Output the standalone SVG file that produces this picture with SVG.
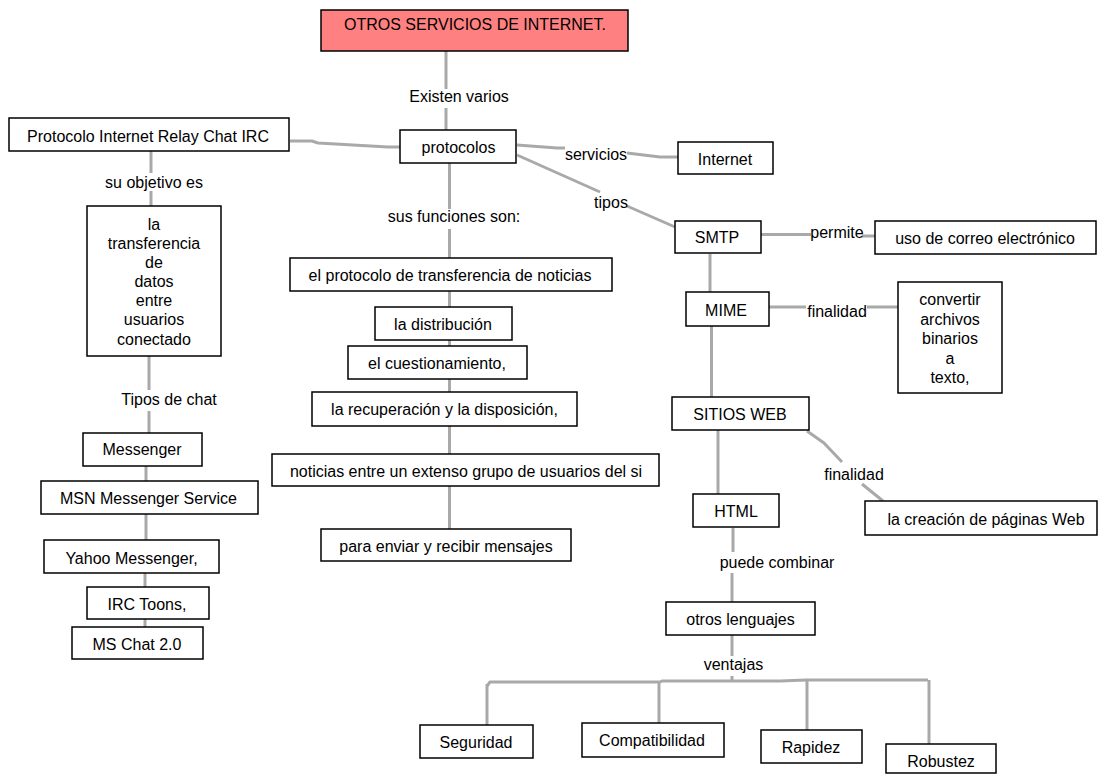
<svg xmlns="http://www.w3.org/2000/svg" width="1101" height="774" viewBox="0 0 1101 774">
<style>
.bx{fill:#fff;stroke:#000;stroke-width:1.5}
.tt{fill:#ff8080;stroke:#000;stroke-width:1.5}
text{font-family:"Liberation Sans",Arial,sans-serif;font-size:16px;fill:#000;text-anchor:middle}
.cn{fill:none;stroke:#a9a9a9;stroke-width:3;stroke-linejoin:round}
</style>
<rect width="1101" height="774" fill="#fff"/>
<g id="connectors" class="cn">
<path d="M446 51V89M446 108V130"/>
<path d="M290 141H312L318 143L388 147H400"/>
<path d="M151 151V173M151 191V206"/>
<path d="M149 356V390M149 411V433"/>
<path d="M146 466V481M146 514V540M145 573V587M145 619V627"/>
<path d="M449.5 163V209M449.5 229V258M449.5 291V307M449.5 340V346M449.5 379V392M449.5 426V454M449.5 486V529"/>
<path d="M517 145L557 148H565M627 153L660 157H678"/>
<path d="M517 155L600 192M627 206L675 227"/>
<path d="M761 234.5H811M862 236H875"/>
<path d="M710 254V292"/>
<path d="M769 307H806M867 307H898"/>
<path d="M711.5 326V397"/>
<path d="M718 430V494"/>
<path d="M807 431L824 443L842 462M862 484L883 501"/>
<path d="M733 528V552M732 573V602"/>
<path d="M732 635V656M732 676V680"/>
<path d="M487 686L490 682H660L662 681H780L806 680H928"/>
<path d="M487 684V725M659 682V723M807 680V730M929 680V744"/>
</g>
<g id="n-title"><rect class="tt" x="321" y="10" width="307" height="41"/><text x="475" y="30">OTROS SERVICIOS DE INTERNET.</text></g>
<g id="n-protocolos"><rect class="bx" x="400" y="130" width="116" height="33"/><text x="458.5" y="153">protocolos</text></g>
<g id="n-irc"><rect class="bx" x="9" y="118" width="280" height="33"/><text x="148" y="141.5">Protocolo Internet Relay Chat IRC</text></g>
<g id="n-internet"><rect class="bx" x="678" y="142" width="95" height="32"/><text x="725" y="165">Internet</text></g>
<g id="n-smtp"><rect class="bx" x="675" y="221" width="86" height="32"/><text x="717" y="243">SMTP</text></g>
<g id="n-uso"><rect class="bx" x="875" y="221" width="221" height="33"/><text x="985" y="244">uso de correo electrónico</text></g>
<g id="n-mime"><rect class="bx" x="686" y="292" width="83" height="34"/><text x="726" y="316">MIME</text></g>
<g id="n-convertir"><rect class="bx" x="898" y="282" width="104" height="111"/><text x="950" y="305">convertir</text><text x="950" y="324.5">archivos</text><text x="950" y="344">binarios</text><text x="950" y="363.5">a</text><text x="950" y="383">texto,</text></g>
<g id="n-sitios"><rect class="bx" x="672" y="397" width="137" height="33"/><text x="740" y="420">SITIOS WEB</text></g>
<g id="n-html"><rect class="bx" x="693" y="494" width="86" height="33"/><text x="736" y="517">HTML</text></g>
<g id="n-creacion"><rect class="bx" x="865" y="501" width="232" height="34"/><text x="986" y="525">la creación de páginas Web</text></g>
<g id="n-otros"><rect class="bx" x="666" y="602" width="149" height="33"/><text x="740.5" y="625">otros lenguajes</text></g>
<g id="n-seguridad"><rect class="bx" x="420" y="725" width="113" height="33"/><text x="476" y="748">Seguridad</text></g>
<g id="n-compat"><rect class="bx" x="582" y="723" width="142" height="34"/><text x="652" y="746">Compatibilidad</text></g>
<g id="n-rapidez"><rect class="bx" x="761" y="730" width="101" height="33"/><text x="811" y="753">Rapidez</text></g>
<g id="n-robustez"><rect class="bx" x="886" y="744" width="110" height="29"/><text x="941" y="767">Robustez</text></g>
<g id="n-transfer"><rect class="bx" x="87" y="206" width="134" height="150"/><text x="154" y="230">la</text><text x="154" y="249">transferencia</text><text x="154" y="268">de</text><text x="154" y="287">datos</text><text x="154" y="306">entre</text><text x="154" y="325">usuarios</text><text x="154" y="345">conectado</text></g>
<g id="n-messenger"><rect class="bx" x="83" y="433" width="119" height="33"/><text x="142" y="455">Messenger</text></g>
<g id="n-msn"><rect class="bx" x="41" y="481" width="217" height="33"/><text x="148.5" y="504">MSN Messenger Service</text></g>
<g id="n-yahoo"><rect class="bx" x="44" y="540" width="175" height="33"/><text x="131.5" y="564">Yahoo Messenger,</text></g>
<g id="n-irctoons"><rect class="bx" x="87" y="587" width="122" height="32"/><text x="147" y="610">IRC Toons,</text></g>
<g id="n-mschat"><rect class="bx" x="72" y="627" width="131" height="32"/><text x="137" y="650">MS Chat 2.0</text></g>
<g id="n-nntp"><rect class="bx" x="290" y="258" width="322" height="33"/><text x="450" y="281">el protocolo de transferencia de noticias</text></g>
<g id="n-distribucion"><rect class="bx" x="375" y="307" width="137" height="33"/><text x="443" y="330">la distribución</text></g>
<g id="n-cuestion"><rect class="bx" x="348" y="346" width="179" height="33"/><text x="437" y="369">el cuestionamiento,</text></g>
<g id="n-recuperacion"><rect class="bx" x="312" y="392" width="265" height="34"/><text x="444.5" y="415">la recuperación y la disposición,</text></g>
<g id="n-noticias"><rect class="bx" x="272" y="454" width="387" height="32"/><text x="466" y="477">noticias entre un extenso grupo de usuarios del si</text></g>
<g id="n-enviar"><rect class="bx" x="321" y="529" width="250" height="32"/><text x="446" y="552">para enviar y recibir mensajes</text></g>
<g id="labels">
<text x="459" y="102">Existen varios</text>
<text x="154" y="188">su objetivo es</text>
<text x="169" y="405">Tipos de chat</text>
<text x="454" y="222">sus funciones son:</text>
<text x="596" y="160">servicios</text>
<text x="611" y="208">tipos</text>
<text x="837" y="238">permite</text>
<text x="837" y="317">finalidad</text>
<text x="854" y="480">finalidad</text>
<text x="777" y="568">puede combinar</text>
<text x="733.5" y="670">ventajas</text>
</g>
</svg>
